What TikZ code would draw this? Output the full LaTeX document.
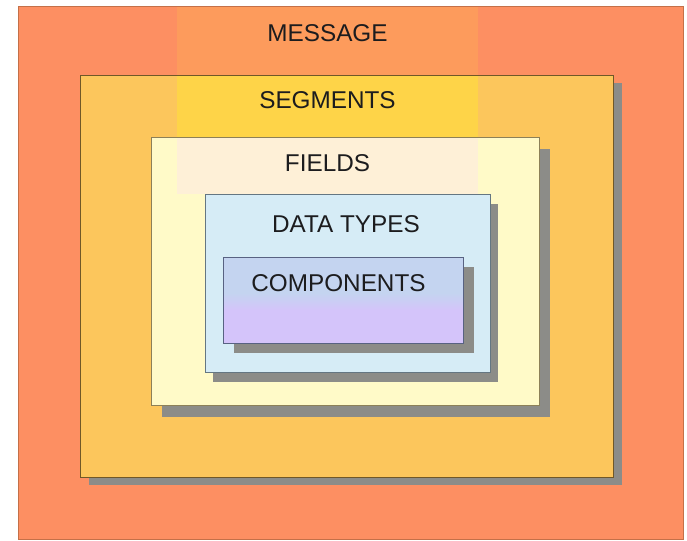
\documentclass[tikz,border=0pt]{standalone}
\usepackage{fontspec}
\setmainfont{Liberation Sans}
\usepackage{tikz}
\usetikzlibrary{shadows,positioning}
\definecolor{msgfill}{RGB}{253,143,98}
\definecolor{msgband}{RGB}{253,155,92}
\definecolor{msgline}{RGB}{196,112,72}
\definecolor{segfill}{RGB}{252,198,92}
\definecolor{segband}{RGB}{254,212,72}
\definecolor{segline}{RGB}{112,88,40}
\definecolor{fldfill}{RGB}{255,250,200}
\definecolor{fldband}{RGB}{254,240,215}
\definecolor{fldline}{RGB}{140,128,88}
\definecolor{dtfill}{RGB}{214,236,246}
\definecolor{dtline}{RGB}{100,118,130}
\definecolor{compblue}{RGB}{196,212,240}
\definecolor{complav}{RGB}{212,196,250}
\definecolor{compline}{RGB}{88,98,130}
\definecolor{shadowgray}{RGB}{140,140,136}
\definecolor{lblgray}{RGB}{28,28,30}
\pgfdeclareverticalshading{compshade}{100bp}{color(0bp)=(complav); color(44bp)=(complav); color(54bp)=(compblue); color(100bp)=(compblue)}
\tikzstyle{box}=[rectangle, anchor=north west, inner sep=0pt, outer sep=0pt, line width=0.9bp]
\tikzstyle{band}=[rectangle, anchor=north west, inner sep=0pt, outer sep=0pt, minimum width=301bp]
\tikzstyle{lbl}=[text=lblgray, font=\fontsize{24.3bp}{29bp}\selectfont, inner sep=0pt]

\begin{document}
\begin{tikzpicture}[x=1bp,y=-1bp]
  \useasboundingbox (0,0) rectangle (687,541);
  % nested boxes, outermost first
  \node[box, fill=msgfill, draw=msgline, minimum width=665bp, minimum height=533bp] (msg) at (18,6) {};
  \node[band, fill=msgband, minimum height=68bp] (msgband) at (177,6.6) {};
  \node[box, fill=segfill, draw=segline, minimum width=533bp, minimum height=402bp,
    general shadow={fill=shadowgray, shadow xshift=9bp, shadow yshift=-8bp}] (seg) at (80,75) {};
  \node[band, fill=segband, minimum height=61bp] (segband) at (177,75.6) {};
  \node[box, fill=fldfill, draw=fldline, minimum width=388bp, minimum height=268bp,
    general shadow={fill=shadowgray, shadow xshift=11bp, shadow yshift=-12bp}] (fld) at (151,137) {};
  \node[band, fill=fldband, minimum height=56bp] (fldband) at (177,137.6) {};
  \node[box, fill=dtfill, draw=dtline, minimum width=285bp, minimum height=178bp,
    general shadow={fill=shadowgray, shadow xshift=8bp, shadow yshift=-10bp}] (dtype) at (205,194) {};
  \node[box, shading=compshade, draw=compline, minimum width=240bp, minimum height=86bp,
    general shadow={fill=shadowgray, shadow xshift=11bp, shadow yshift=-10bp}] (comp) at (223,257) {};
  % labels
  \node[lbl] (msgl) at (327.5,33.5) {MESSAGE};
  \node[lbl] (segl) at (327.5,100.5) {SEGMENTS};
  \node[lbl] (fldl) at (327.5,163.5) {FIELDS};
  \node[lbl] (dtypel) at (346,224.5) {DATA TYPES};
  \node[lbl] (compl) at (338.5,283) {COMPONENTS};
\end{tikzpicture}
\end{document}
